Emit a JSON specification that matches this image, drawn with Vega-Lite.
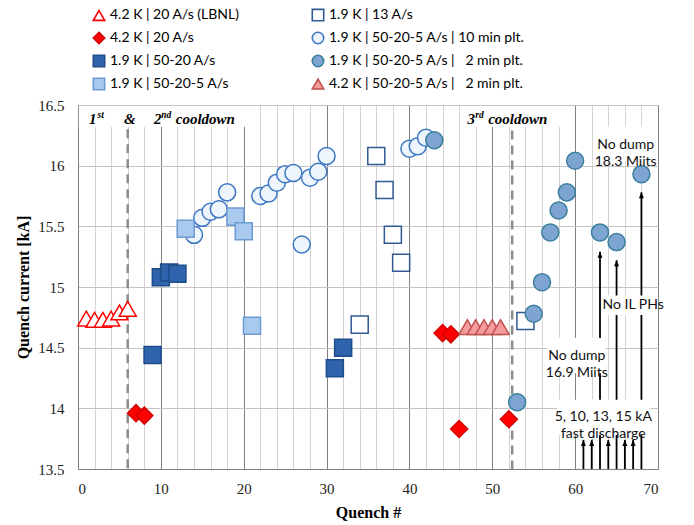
{
  "$schema": "https://vega.github.io/schema/vega-lite/v6.json",
  "width": 580,
  "height": 364,
  "autosize": {"type": "none"},
  "padding": {"left": 78, "top": 105, "right": 36, "bottom": 56},
  "background": "white",
  "config": {
    "view": {"stroke": "#7f7f7f", "strokeWidth": 1},
    "axisX": {
      "titleFont": "Liberation Serif", "titleFontSize": 16, "titleFontWeight": "bold", "titleColor": "#000000", "titlePadding": 8,
      "labelFont": "Liberation Serif", "labelFontSize": 15, "labelColor": "#222222", "labelPadding": 12, "labelOverlap": false,
      "ticks": false, "domainColor": "#7f7f7f", "grid": true, "gridWidth": 1
    },
    "axisY": {
      "titleFont": "Liberation Serif", "titleFontSize": 16, "titleFontWeight": "bold", "titleColor": "#000000", "titlePadding": 6,
      "labelFont": "Liberation Serif", "labelFontSize": 15, "labelColor": "#222222", "labelPadding": 14, "labelOverlap": false,
      "ticks": false, "domainColor": "#7f7f7f", "grid": true, "gridColor": "#c4c4c4", "gridWidth": 1
    }
  },
  "datasets": {
    "points": [
      {"q": 1, "kA": 14.74, "series": "4.2 K | 20 A/s (LBNL)"},
      {"q": 2, "kA": 14.73, "series": "4.2 K | 20 A/s (LBNL)"},
      {"q": 3, "kA": 14.73, "series": "4.2 K | 20 A/s (LBNL)"},
      {"q": 4, "kA": 14.74, "series": "4.2 K | 20 A/s (LBNL)"},
      {"q": 5, "kA": 14.79, "series": "4.2 K | 20 A/s (LBNL)"},
      {"q": 6, "kA": 14.82, "series": "4.2 K | 20 A/s (LBNL)"},
      {"q": 7, "kA": 13.96, "series": "4.2 K | 20 A/s"},
      {"q": 8, "kA": 13.94, "series": "4.2 K | 20 A/s"},
      {"q": 44, "kA": 14.62, "series": "4.2 K | 20 A/s"},
      {"q": 45, "kA": 14.61, "series": "4.2 K | 20 A/s"},
      {"q": 46, "kA": 13.83, "series": "4.2 K | 20 A/s"},
      {"q": 52, "kA": 13.91, "series": "4.2 K | 20 A/s"},
      {"q": 47, "kA": 14.67, "series": "4.2 K | 50-20-5 A/s |\u00a0\u00a0 2 min plt."},
      {"q": 48, "kA": 14.67, "series": "4.2 K | 50-20-5 A/s |\u00a0\u00a0 2 min plt."},
      {"q": 49, "kA": 14.67, "series": "4.2 K | 50-20-5 A/s |\u00a0\u00a0 2 min plt."},
      {"q": 50, "kA": 14.67, "series": "4.2 K | 50-20-5 A/s |\u00a0\u00a0 2 min plt."},
      {"q": 51, "kA": 14.67, "series": "4.2 K | 50-20-5 A/s |\u00a0\u00a0 2 min plt."},
      {"q": 14, "kA": 15.43, "series": "1.9 K | 50-20-5 A/s | 10 min plt."},
      {"q": 15, "kA": 15.57, "series": "1.9 K | 50-20-5 A/s | 10 min plt."},
      {"q": 16, "kA": 15.62, "series": "1.9 K | 50-20-5 A/s | 10 min plt."},
      {"q": 17, "kA": 15.64, "series": "1.9 K | 50-20-5 A/s | 10 min plt."},
      {"q": 18, "kA": 15.78, "series": "1.9 K | 50-20-5 A/s | 10 min plt."},
      {"q": 22, "kA": 15.75, "series": "1.9 K | 50-20-5 A/s | 10 min plt."},
      {"q": 23, "kA": 15.77, "series": "1.9 K | 50-20-5 A/s | 10 min plt."},
      {"q": 24, "kA": 15.86, "series": "1.9 K | 50-20-5 A/s | 10 min plt."},
      {"q": 25, "kA": 15.93, "series": "1.9 K | 50-20-5 A/s | 10 min plt."},
      {"q": 26, "kA": 15.94, "series": "1.9 K | 50-20-5 A/s | 10 min plt."},
      {"q": 27, "kA": 15.35, "series": "1.9 K | 50-20-5 A/s | 10 min plt."},
      {"q": 28, "kA": 15.9, "series": "1.9 K | 50-20-5 A/s | 10 min plt."},
      {"q": 29, "kA": 15.95, "series": "1.9 K | 50-20-5 A/s | 10 min plt."},
      {"q": 30, "kA": 16.08, "series": "1.9 K | 50-20-5 A/s | 10 min plt."},
      {"q": 40, "kA": 16.14, "series": "1.9 K | 50-20-5 A/s | 10 min plt."},
      {"q": 41, "kA": 16.16, "series": "1.9 K | 50-20-5 A/s | 10 min plt."},
      {"q": 42, "kA": 16.23, "series": "1.9 K | 50-20-5 A/s | 10 min plt."},
      {"q": 13, "kA": 15.48, "series": "1.9 K | 50-20-5 A/s"},
      {"q": 19, "kA": 15.58, "series": "1.9 K | 50-20-5 A/s"},
      {"q": 20, "kA": 15.46, "series": "1.9 K | 50-20-5 A/s"},
      {"q": 21, "kA": 14.68, "series": "1.9 K | 50-20-5 A/s"},
      {"q": 9, "kA": 14.44, "series": "1.9 K | 50-20 A/s"},
      {"q": 10, "kA": 15.08, "series": "1.9 K | 50-20 A/s"},
      {"q": 11, "kA": 15.12, "series": "1.9 K | 50-20 A/s"},
      {"q": 12, "kA": 15.11, "series": "1.9 K | 50-20 A/s"},
      {"q": 31, "kA": 14.33, "series": "1.9 K | 50-20 A/s"},
      {"q": 32, "kA": 14.5, "series": "1.9 K | 50-20 A/s"},
      {"q": 34, "kA": 14.69, "series": "1.9 K | 13 A/s"},
      {"q": 36, "kA": 16.08, "series": "1.9 K | 13 A/s"},
      {"q": 37, "kA": 15.8, "series": "1.9 K | 13 A/s"},
      {"q": 38, "kA": 15.43, "series": "1.9 K | 13 A/s"},
      {"q": 39, "kA": 15.2, "series": "1.9 K | 13 A/s"},
      {"q": 54, "kA": 14.72, "series": "1.9 K | 13 A/s"},
      {"q": 43, "kA": 16.21, "series": "1.9 K | 50-20-5 A/s |\u00a0\u00a0 2 min plt."},
      {"q": 53, "kA": 14.05, "series": "1.9 K | 50-20-5 A/s |\u00a0\u00a0 2 min plt."},
      {"q": 55, "kA": 14.78, "series": "1.9 K | 50-20-5 A/s |\u00a0\u00a0 2 min plt."},
      {"q": 56, "kA": 15.04, "series": "1.9 K | 50-20-5 A/s |\u00a0\u00a0 2 min plt."},
      {"q": 57, "kA": 15.45, "series": "1.9 K | 50-20-5 A/s |\u00a0\u00a0 2 min plt."},
      {"q": 58, "kA": 15.63, "series": "1.9 K | 50-20-5 A/s |\u00a0\u00a0 2 min plt."},
      {"q": 59, "kA": 15.78, "series": "1.9 K | 50-20-5 A/s |\u00a0\u00a0 2 min plt."},
      {"q": 60, "kA": 16.04, "series": "1.9 K | 50-20-5 A/s |\u00a0\u00a0 2 min plt."},
      {"q": 63, "kA": 15.45, "series": "1.9 K | 50-20-5 A/s |\u00a0\u00a0 2 min plt."},
      {"q": 65, "kA": 15.37, "series": "1.9 K | 50-20-5 A/s |\u00a0\u00a0 2 min plt."},
      {"q": 68, "kA": 15.93, "series": "1.9 K | 50-20-5 A/s |\u00a0\u00a0 2 min plt."}
    ],
    "arrows": [
      {"q": 61, "top": 13.74},
      {"q": 62, "top": 13.74},
      {"q": 63, "top": 15.29},
      {"q": 64, "top": 13.74},
      {"q": 65, "top": 15.22},
      {"q": 66, "top": 13.74},
      {"q": 67, "top": 13.74},
      {"q": 68, "top": 15.78}
    ],
    "boxes": [
      {"q": 0.1, "q2": 20.2, "kA": 16.32, "kA2": 16.49},
      {"q": 46.1, "q2": 58.2, "kA": 16.32, "kA2": 16.49},
      {"q": 62.6, "q2": 69.6, "kA": 16.04, "kA2": 16.32},
      {"q": 63.5, "q2": 69.9, "kA": 14.77, "kA2": 14.93},
      {"q": 56.6, "q2": 63.7, "kA": 14.29, "kA2": 14.58},
      {"q": 57.8, "q2": 69.0, "kA": 13.78, "kA2": 14.07}
    ],
    "dashes": [
      {"q": 6, "top": 16.3},
      {"q": 52.4, "top": 16.29}
    ],
    "serif": [
      {"q": 1.33, "kA": 16.343, "label": "1"},
      {"q": 5.54, "kA": 16.343, "label": "&"},
      {"q": 9.16, "kA": 16.343, "label": "2"},
      {"q": 11.8, "kA": 16.343, "label": "cooldown"},
      {"q": 47.0, "kA": 16.343, "label": "3"},
      {"q": 49.5, "kA": 16.343, "label": "cooldown"}
    ],
    "sup": [
      {"q": 2.35, "kA": 16.39, "label": "st"},
      {"q": 10.05, "kA": 16.39, "label": "nd"},
      {"q": 47.95, "kA": 16.39, "label": "rd"}
    ],
    "notes": [
      {"q": 60.2, "kA": 14.43, "label": "No dump\n16.9 Miits"},
      {"q": 66.1, "kA": 16.17, "label": "No dump\n18.3 Miits"},
      {"q": 67.0, "kA": 14.85, "label": "No IL PHs"},
      {"q": 63.4, "kA": 13.93, "label": "5, 10, 13, 15 kA\nfast discharge"}
    ]
  },
  "layer": [
    {
      "data": {"name": "arrows"},
      "mark": {"type": "rule", "color": "#000000", "strokeWidth": 1.8},
      "encoding": {
        "x": {"field": "q", "type": "quantitative", "scale": {"domain": [0, 70], "nice": false, "zero": false}, "title": "Quench #",
          "axis": {"values": [0,2,4,6,8,10,12,14,16,18,20,22,24,26,28,30,32,34,36,38,40,42,44,46,48,50,52,54,56,58,60,62,64,66,68,70], "labelExpr": "datum.value % 10 === 0 ? datum.label : ''", "gridColor": {"condition": {"test": "datum.value % 10 === 0", "value": "#808080"}, "value": "#d4d4d4"}}},
        "y": {"field": "top", "type": "quantitative", "scale": {"domain": [13.5, 16.5], "nice": false, "zero": false}, "title": "Quench current [kA]",
          "axis": {"values": [13.5, 14, 14.5, 15, 15.5, 16, 16.5], "labelExpr": "datum.value + ''"}},
        "y2": {"datum": 13.5}
      }
    },
    {
      "data": {"name": "boxes"},
      "mark": {"type": "rect", "color": "white"},
      "encoding": {
        "x": {"field": "q", "type": "quantitative", "scale": {"domain": [0, 70], "nice": false, "zero": false}, "title": "Quench #",
          "axis": {"values": [0,2,4,6,8,10,12,14,16,18,20,22,24,26,28,30,32,34,36,38,40,42,44,46,48,50,52,54,56,58,60,62,64,66,68,70], "labelExpr": "datum.value % 10 === 0 ? datum.label : ''", "gridColor": {"condition": {"test": "datum.value % 10 === 0", "value": "#808080"}, "value": "#d4d4d4"}}},
        "x2": {"field": "q2"},
        "y": {"field": "kA", "type": "quantitative", "scale": {"domain": [13.5, 16.5], "nice": false, "zero": false}, "title": "Quench current [kA]",
          "axis": {"values": [13.5, 14, 14.5, 15, 15.5, 16, 16.5], "labelExpr": "datum.value + ''"}},
        "y2": {"field": "kA2"}
      }
    },
    {
      "data": {"name": "dashes"},
      "mark": {"type": "rule", "color": "#8c8c8c", "strokeWidth": 2.5, "strokeDash": [9, 6]},
      "encoding": {
        "x": {"field": "q", "type": "quantitative", "scale": {"domain": [0, 70], "nice": false, "zero": false}, "title": "Quench #",
          "axis": {"values": [0,2,4,6,8,10,12,14,16,18,20,22,24,26,28,30,32,34,36,38,40,42,44,46,48,50,52,54,56,58,60,62,64,66,68,70], "labelExpr": "datum.value % 10 === 0 ? datum.label : ''", "gridColor": {"condition": {"test": "datum.value % 10 === 0", "value": "#808080"}, "value": "#d4d4d4"}}},
        "y": {"field": "top", "type": "quantitative", "scale": {"domain": [13.5, 16.5], "nice": false, "zero": false}, "title": "Quench current [kA]",
          "axis": {"values": [13.5, 14, 14.5, 15, 15.5, 16, 16.5], "labelExpr": "datum.value + ''"}},
        "y2": {"datum": 13.5}
      }
    },
    {
      "data": {"name": "points"},
      "mark": {"type": "point", "filled": true, "opacity": 1, "size": 290, "strokeWidth": 1.5},
      "encoding": {
        "x": {"field": "q", "type": "quantitative", "scale": {"domain": [0, 70], "nice": false, "zero": false}, "title": "Quench #",
          "axis": {"values": [0,2,4,6,8,10,12,14,16,18,20,22,24,26,28,30,32,34,36,38,40,42,44,46,48,50,52,54,56,58,60,62,64,66,68,70], "labelExpr": "datum.value % 10 === 0 ? datum.label : ''", "gridColor": {"condition": {"test": "datum.value % 10 === 0", "value": "#808080"}, "value": "#d4d4d4"}}},
        "y": {"field": "kA", "type": "quantitative", "scale": {"domain": [13.5, 16.5], "nice": false, "zero": false}, "title": "Quench current [kA]",
          "axis": {"values": [13.5, 14, 14.5, 15, 15.5, 16, 16.5], "labelExpr": "datum.value + ''"}},
        "shape": {
          "field": "series", "type": "nominal",
          "scale": {
            "domain": ["4.2 K | 20 A/s (LBNL)", "4.2 K | 20 A/s", "1.9 K | 50-20 A/s", "1.9 K | 50-20-5 A/s", "1.9 K | 13 A/s", "1.9 K | 50-20-5 A/s | 10 min plt.", "1.9 K | 50-20-5 A/s |\u00a0\u00a0 2 min plt.", "4.2 K | 50-20-5 A/s |\u00a0\u00a0 2 min plt."],
            "range": ["triangle-up", "diamond", "square", "square", "square", "circle", "circle", "triangle-up"]
          },
          "legend": {
            "title": null, "orient": "none", "legendX": 14, "legendY": -97,
            "columns": 2, "columnPadding": 69, "rowPadding": 5,
            "labelFont": "Lato", "labelFontSize": 14, "labelColor": "#000000", "labelOffset": 4, "labelLimit": 400,
            "symbolSize": 130, "symbolStrokeWidth": 1.6
          }
        },
        "fill": {
          "field": "series", "type": "nominal",
          "scale": {
            "domain": ["4.2 K | 20 A/s (LBNL)", "4.2 K | 20 A/s", "1.9 K | 50-20 A/s", "1.9 K | 50-20-5 A/s", "1.9 K | 13 A/s", "1.9 K | 50-20-5 A/s | 10 min plt.", "1.9 K | 50-20-5 A/s |\u00a0\u00a0 2 min plt.", "4.2 K | 50-20-5 A/s |\u00a0\u00a0 2 min plt."],
            "range": ["#ffffff", "#ff0000", "#2f63ab", "#a9c9ee", "#ffffff", "#eef5fd", "#7ea5d2", "#f49c9c"]
          },
          "legend": {
            "title": null, "orient": "none", "legendX": 14, "legendY": -97,
            "columns": 2, "columnPadding": 69, "rowPadding": 5,
            "labelFont": "Lato", "labelFontSize": 14, "labelColor": "#000000", "labelOffset": 4, "labelLimit": 400,
            "symbolSize": 130, "symbolStrokeWidth": 1.6
          }
        },
        "stroke": {
          "field": "series", "type": "nominal",
          "scale": {
            "domain": ["4.2 K | 20 A/s (LBNL)", "4.2 K | 20 A/s", "1.9 K | 50-20 A/s", "1.9 K | 50-20-5 A/s", "1.9 K | 13 A/s", "1.9 K | 50-20-5 A/s | 10 min plt.", "1.9 K | 50-20-5 A/s |\u00a0\u00a0 2 min plt.", "4.2 K | 50-20-5 A/s |\u00a0\u00a0 2 min plt."],
            "range": ["#ff0000", "#d40000", "#1f4d8a", "#6b9bd2", "#2f5a92", "#3a76c3", "#3a7f9e", "#c0504d"]
          },
          "legend": {
            "title": null, "orient": "none", "legendX": 14, "legendY": -97,
            "columns": 2, "columnPadding": 69, "rowPadding": 5,
            "labelFont": "Lato", "labelFontSize": 14, "labelColor": "#000000", "labelOffset": 4, "labelLimit": 400,
            "symbolSize": 130, "symbolStrokeWidth": 1.6
          }
        }
      }
    },
    {
      "data": {"name": "arrows"},
      "mark": {"type": "point", "shape": "M0,0L0.5,1.2L-0.5,1.2Z", "filled": true, "color": "#000000", "opacity": 1, "size": 100, "strokeWidth": 0},
      "encoding": {
        "x": {"field": "q", "type": "quantitative", "scale": {"domain": [0, 70], "nice": false, "zero": false}, "title": "Quench #",
          "axis": {"values": [0,2,4,6,8,10,12,14,16,18,20,22,24,26,28,30,32,34,36,38,40,42,44,46,48,50,52,54,56,58,60,62,64,66,68,70], "labelExpr": "datum.value % 10 === 0 ? datum.label : ''", "gridColor": {"condition": {"test": "datum.value % 10 === 0", "value": "#808080"}, "value": "#d4d4d4"}}},
        "y": {"field": "top", "type": "quantitative", "scale": {"domain": [13.5, 16.5], "nice": false, "zero": false}, "title": "Quench current [kA]",
          "axis": {"values": [13.5, 14, 14.5, 15, 15.5, 16, 16.5], "labelExpr": "datum.value + ''"}}
      }
    },
    {
      "data": {"name": "serif"},
      "mark": {"type": "text", "font": "Liberation Serif", "fontSize": 15, "fontWeight": "bold", "fontStyle": "italic", "align": "left", "baseline": "alphabetic", "color": "#000000"},
      "encoding": {
        "x": {"field": "q", "type": "quantitative", "scale": {"domain": [0, 70], "nice": false, "zero": false}, "title": "Quench #",
          "axis": {"values": [0,2,4,6,8,10,12,14,16,18,20,22,24,26,28,30,32,34,36,38,40,42,44,46,48,50,52,54,56,58,60,62,64,66,68,70], "labelExpr": "datum.value % 10 === 0 ? datum.label : ''", "gridColor": {"condition": {"test": "datum.value % 10 === 0", "value": "#808080"}, "value": "#d4d4d4"}}},
        "y": {"field": "kA", "type": "quantitative", "scale": {"domain": [13.5, 16.5], "nice": false, "zero": false}, "title": "Quench current [kA]",
          "axis": {"values": [13.5, 14, 14.5, 15, 15.5, 16, 16.5], "labelExpr": "datum.value + ''"}},
        "text": {"field": "label"}
      }
    },
    {
      "data": {"name": "sup"},
      "mark": {"type": "text", "font": "Liberation Serif", "fontSize": 9.5, "fontWeight": "bold", "fontStyle": "italic", "align": "left", "baseline": "alphabetic", "color": "#000000"},
      "encoding": {
        "x": {"field": "q", "type": "quantitative", "scale": {"domain": [0, 70], "nice": false, "zero": false}, "title": "Quench #",
          "axis": {"values": [0,2,4,6,8,10,12,14,16,18,20,22,24,26,28,30,32,34,36,38,40,42,44,46,48,50,52,54,56,58,60,62,64,66,68,70], "labelExpr": "datum.value % 10 === 0 ? datum.label : ''", "gridColor": {"condition": {"test": "datum.value % 10 === 0", "value": "#808080"}, "value": "#d4d4d4"}}},
        "y": {"field": "kA", "type": "quantitative", "scale": {"domain": [13.5, 16.5], "nice": false, "zero": false}, "title": "Quench current [kA]",
          "axis": {"values": [13.5, 14, 14.5, 15, 15.5, 16, 16.5], "labelExpr": "datum.value + ''"}},
        "text": {"field": "label"}
      }
    },
    {
      "data": {"name": "notes"},
      "mark": {"type": "text", "font": "Lato", "fontSize": 14, "align": "center", "baseline": "middle", "lineBreak": "\n", "lineHeight": 17, "color": "#111111"},
      "encoding": {
        "x": {"field": "q", "type": "quantitative", "scale": {"domain": [0, 70], "nice": false, "zero": false}, "title": "Quench #",
          "axis": {"values": [0,2,4,6,8,10,12,14,16,18,20,22,24,26,28,30,32,34,36,38,40,42,44,46,48,50,52,54,56,58,60,62,64,66,68,70], "labelExpr": "datum.value % 10 === 0 ? datum.label : ''", "gridColor": {"condition": {"test": "datum.value % 10 === 0", "value": "#808080"}, "value": "#d4d4d4"}}},
        "y": {"field": "kA", "type": "quantitative", "scale": {"domain": [13.5, 16.5], "nice": false, "zero": false}, "title": "Quench current [kA]",
          "axis": {"values": [13.5, 14, 14.5, 15, 15.5, 16, 16.5], "labelExpr": "datum.value + ''"}},
        "text": {"field": "label"}
      }
    }
  ]
}
